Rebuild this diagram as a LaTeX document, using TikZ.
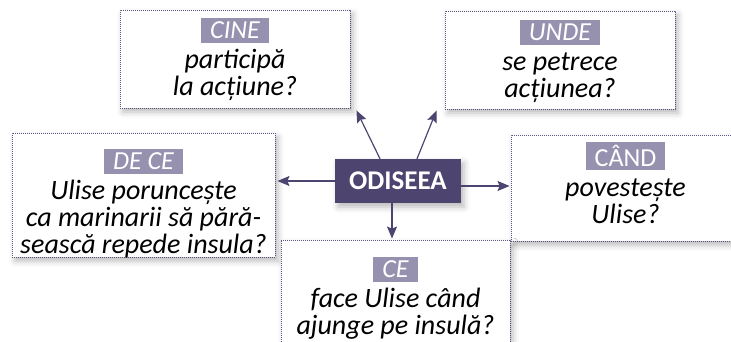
\documentclass[tikz,border=0pt]{standalone}
\usepackage{fontspec}
\setmainfont{Carlito}
\definecolor{OdiDark}{RGB}{77,69,112}
\definecolor{OdiLabel}{RGB}{151,145,176}
\definecolor{OdiDots}{RGB}{90,84,128}
\usetikzlibrary{arrows.meta,positioning,shadows.blur}
\newcommand{\qlab}[1]{{\setlength{\fboxsep}{3pt}\colorbox{OdiLabel}{\hspace{6pt}\rule[-1pt]{0pt}{1pt}\vphantom{E}\textcolor{white}{\fontsize{26}{27}\selectfont #1}\hspace{6pt}}}}
\tikzset{
  qbox/.style={draw=OdiDots, dash pattern=on 0.9pt off 1.1pt, line width=0.9pt, fill=white, inner sep=0pt,
    blur shadow={shadow xshift=3pt, shadow yshift=-4pt, shadow blur radius=6pt, shadow opacity=28}},
  qtext/.style={anchor=north, align=center, inner sep=0pt, font=\fontsize{28}{27}\selectfont\itshape},
  arr/.style={OdiDark, line width=1.2pt, -{Stealth[length=12pt,width=10pt,inset=2pt]}}
}
\begin{document}
\begin{tikzpicture}[x=1pt,y=-1pt]
\useasboundingbox (0,0) rectangle (731,342);
% question boxes
\node[qbox, minimum width=230, minimum height=98] (cine) at (235,59) {};
\node[qbox, minimum width=230, minimum height=98] (unde) at (560,60) {};
\node[qbox, minimum width=263, minimum height=124] (dece) at (143.5,195) {};
\node[qbox, minimum width=229, minimum height=106] (cand) at (625.5,188) {};
\node[qbox, minimum width=229, minimum height=125] (ce) at (395.5,302.5) {};
% texts
\node[qtext, below=8pt of cine.north] (cine-t) {\qlab{CINE}\\[3pt]participă\\la acțiune?};
\node[qtext, below=9pt of unde.north] (unde-t) {\qlab{UNDE}\\[3pt]se petrece\\acțiunea?};
\node[qtext, below=16pt of dece.north] (dece-t) {\qlab{DE CE}\\[3pt]Ulise poruncește\\ca marinarii să pără-\\sească repede insula?};
\node[qtext, below=7pt of cand.north] (cand-t) {\qlab{\upshape CÂND}\\[3pt]povestește\\Ulise?};
\node[qtext, below=17pt of ce.north] (ce-t) {\qlab{CE}\\[3pt]face Ulise când\\ajunge pe insulă?};
% centre
\node[fill=OdiDark, text=white, font=\fontsize{27}{28}\selectfont\bfseries,
  minimum width=126, minimum height=44, inner sep=0pt,
  blur shadow={shadow xshift=3pt, shadow yshift=-4pt, shadow blur radius=6pt, shadow opacity=28}]
  (odiseea) at (398,181) {ODISEEA};
% arrows
\draw[arr] ([xshift=-18pt]odiseea.north) -- ([xshift=6pt,yshift=-2pt]cine.south east);
\draw[arr] ([xshift=19pt]odiseea.north) -- ([xshift=-8pt,yshift=-1pt]unde.south west);
\draw[arr] (odiseea.west) -- ([xshift=2pt]dece.east |- odiseea.west);
\draw[arr] ([yshift=-5pt]odiseea.east) -- ([xshift=-1pt,yshift=-5pt]cand.west |- odiseea.east);
\draw[arr] ([xshift=-6pt]odiseea.south) -- ([xshift=-6pt,yshift=1pt]ce.north -| odiseea.south);
\end{tikzpicture}
\end{document}
